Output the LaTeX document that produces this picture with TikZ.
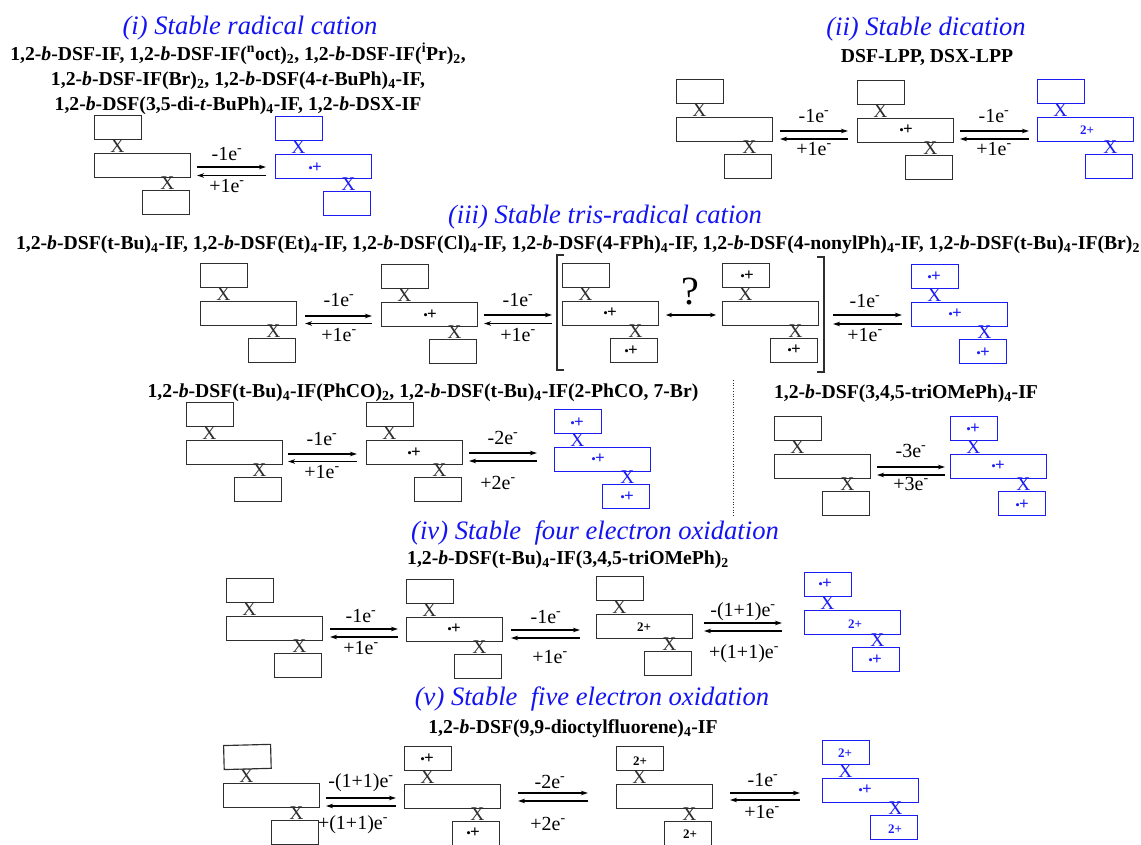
\documentclass[tikz,border=0pt]{standalone}
\usepackage{fontspec}
\setmainfont{Liberation Serif}
\usetikzlibrary{arrows.meta}
\definecolor{ink}{HTML}{2E2E2E}
\definecolor{bl}{HTML}{1C1CF5}
\definecolor{tt}{HTML}{1414F0}
\tikzset{
 mbox/.style={draw,line width=1.15pt,inner sep=0pt,minimum height=24pt,anchor=north west},
 lng/.style={mbox,minimum width=95.5pt},
 sht/.style={mbox,minimum width=47pt},
 xlab/.style={inner sep=0pt,font=\fontsize{19.5}{19}\selectfont},
 ttl/.style={inner sep=0pt,anchor=base,yshift=-8pt,text=tt,font=\fontsize{26.6}{26}\selectfont\itshape},
 cmp/.style={inner sep=0pt,anchor=base,yshift=-5pt,text=black,font=\fontsize{19.7}{20}\selectfont\bfseries},
 el/.style={inner sep=0pt,anchor=base,yshift=-6pt,text=black,font=\fontsize{20}{20}\selectfont},
 lab/.style={inner sep=0pt,text=black},
 labb/.style={inner sep=0pt,text=bl},
 eqa/.style={line width=1.7pt,color=black,-{Stealth[length=7pt,width=4.5pt]}},
 eqthin/.style={line width=1.1pt,color=black,-{Stealth[length=7pt,width=4.5pt]}},
}
\newcommand{\rc}{{\fontsize{13}{13}\selectfont\raisebox{0.6pt}{•}}\kern-0.8pt{\fontsize{17}{17}\selectfont\bfseries +}}
\newcommand{\dc}{{\fontsize{13}{13}\selectfont\bfseries 2+}}
\newcommand{\ssub}[1]{\textsubscript{#1}}
\newcommand{\ssup}[1]{\textsuperscript{#1}}
\newcommand{\bb}{\textit{b}}
\newcommand{\tbu}{\textit{t}}
% name, x, y, colour
\newcommand{\mol}[5][]{%
 \node[lng,draw=#5] (#2-m) at (#3,#4) {};
 \node[sht,draw=#5,#1] (#2-t) at (#3,#4-38) {};
 \node[sht,draw=#5] (#2-b) at (#3+48,#4+37) {};
 \node[xlab,text=#5] (#2-x) at (#3+23.5,#4-6.5) {X};
 \node[xlab,text=#5] (#2-y) at (#3+73.5,#4+30.5) {X};
}
% name, x1, x2, ytop, ybot, style
\newcommand{\eqm}[6]{%
 \coordinate (#1-a) at (#2,#4);
 \coordinate (#1-b) at (#3,#4);
 \coordinate (#1-c) at (#3,#5);
 \coordinate (#1-d) at (#2,#5);
 \draw[#6] (#1-a) -- (#1-b);
 \draw[#6] (#1-c) -- (#1-d);
}
\begin{document}
\begin{tikzpicture}[x=1pt,y=-1pt]
\useasboundingbox (0,0) rectangle (1141,844);
\clip (0,0) rectangle (1141,844);
% --- (i)
\node[ttl] (t1) at (250,26) {(i) Stable radical cation};
\node[cmp] (c1a) at (238,55) {1,2-\bb-DSF-IF, 1,2-\bb-DSF-IF(\ssup{n}oct)\ssub{2}, 1,2-\bb-DSF-IF(\ssup{i}Pr)\ssub{2},};
\node[cmp] (c1b) at (238,80) {1,2-\bb-DSF-IF(Br)\ssub{2}, 1,2-\bb-DSF(4-\tbu-BuPh)\ssub{4}-IF,};
\node[cmp] (c1c) at (238,105) {1,2-\bb-DSF(3,5-di-\tbu-BuPh)\ssub{4}-IF, 1,2-\bb-DSX-IF};
\mol{ia}{94}{153}{ink}
\mol{ib}{275}{154}{bl}
\node[labb] (ibm) at (315,168) {\rc};
\eqm{e1}{197}{266}{167}{175.5}{eqa}
\node[el] (e1u) at (227,154) {-1e\ssup{-}};
\node[el] (e1d) at (227,186) {+1e\ssup{-}};
% --- (ii)
\node[ttl] (t2) at (926,27) {(ii) Stable dication};
\node[cmp] (c2) at (927,57) {DSF-LPP, DSX-LPP};
\mol{iia}{676}{117}{ink}
\mol{iib}{857}{118}{ink}
\mol{iic}{1037}{117}{bl}
\node[lab] (iibm) at (906,130) {\rc};
\node[labb] (iicm) at (1087,130) {\dc};
\eqm{e2}{780}{848}{131}{139}{eqa}
\eqm{e3}{960}{1029}{131}{139}{eqa}
\node[el] (e2u) at (814,116) {-1e\ssup{-}};
\node[el] (e2d) at (814,149) {+1e\ssup{-}};
\node[el] (e3u) at (994,116) {-1e\ssup{-}};
\node[el] (e3d) at (994,149) {+1e\ssup{-}};
% --- (iii)
\node[ttl] (t3) at (605,215) {(iii) Stable tris-radical cation};
\node[cmp] (c3) at (578,244) {1,2-\bb-DSF(t-Bu)\ssub{4}-IF, 1,2-\bb-DSF(Et)\ssub{4}-IF, 1,2-\bb-DSF(Cl)\ssub{4}-IF, 1,2-\bb-DSF(4-FPh)\ssub{4}-IF, 1,2-\bb-DSF(4-nonylPh)\ssub{4}-IF, 1,2-\bb-DSF(t-Bu)\ssub{4}-IF(Br)\ssub{2}};
\mol{ma}{200}{301}{ink}
\mol{mb}{381}{302}{ink}
\mol{mc}{562}{301}{ink}
\mol{md}{722}{301}{ink}
\mol{me}{911}{302}{bl}
\node[lab] (mbm) at (430,315) {\rc};
\node[lab] (mcm) at (610,313) {\rc};
\node[lab] (mcb) at (631,351) {\rc};
\node[lab] (mdt) at (747,276) {\rc};
\node[lab] (mdb) at (794,350) {\rc};
\node[labb] (met) at (934,277) {\rc};
\node[labb] (mem) at (955,314) {\rc};
\node[labb] (meb) at (983,353) {\rc};
\eqm{e4}{305}{372}{316}{323.5}{eqa}
\eqm{e5}{484}{552}{315}{323.5}{eqa}
\eqm{e6}{833}{902}{315}{324}{eqa}
\node[el] (e4u) at (339,300) {-1e\ssup{-}};
\node[el] (e4d) at (339,335) {+1e\ssup{-}};
\node[el] (e5u) at (518,300) {-1e\ssup{-}};
\node[el] (e5d) at (518,335) {+1e\ssup{-}};
\node[el] (e6u) at (865,301) {-1e\ssup{-}};
\node[el] (e6d) at (865,335) {+1e\ssup{-}};
\node[inner sep=0pt,font=\fontsize{40}{40}\selectfont] (q) at (690,292) {?};
\coordinate (qa) at (666,315);
\coordinate (qb) at (716,315);
\draw[line width=1.2pt,{Stealth[length=6pt,width=4.5pt]}-{Stealth[length=6pt,width=4.5pt]}] (qa) -- (qb);
\coordinate (bl1) at (564,255); \coordinate (bl2) at (557,255); \coordinate (bl3) at (557,370); \coordinate (bl4) at (564,370);
\draw[line width=1.4pt,color=ink] (bl1) -- (bl2) -- (bl3) -- (bl4);
\coordinate (br1) at (817,257); \coordinate (br2) at (824,257); \coordinate (br3) at (824,372); \coordinate (br4) at (817,372);
\draw[line width=1.4pt,color=ink] (br1) -- (br2) -- (br3) -- (br4);
\node[cmp] (c3b) at (423,392) {1,2-\bb-DSF(t-Bu)\ssub{4}-IF(PhCO)\ssub{2}, 1,2-\bb-DSF(t-Bu)\ssub{4}-IF(2-PhCO, 7-Br)};
\node[cmp] (c3c) at (906,393) {1,2-\bb-DSF(3,4,5-triOMePh)\ssub{4}-IF};
\coordinate (da) at (733,380); \coordinate (db) at (733,516);
\draw[line width=0.7pt,dotted,color=ink] (da) -- (db);
\mol{na}{186}{440}{ink}
\mol{nb}{366}{440}{ink}
\mol{nc}{554}{447}{bl}
\node[lab] (nbm) at (414,453) {\rc};
\node[labb] (nct) at (577,423) {\rc};
\node[labb] (ncm) at (598,459) {\rc};
\node[labb] (ncb) at (627,497) {\rc};
\eqm{e7}{288}{357}{454}{461.5}{eqa}
\eqm{e8}{469}{537}{453}{461}{eqa}
\node[el] (e7u) at (322,439) {-1e\ssup{-}};
\node[el] (e7d) at (322,472) {+1e\ssup{-}};
\node[el] (e8u) at (503,438) {-2e\ssup{-}};
\node[el] (e8d) at (498,483) {+2e\ssup{-}};
\mol{oa}{774}{454}{ink}
\mol{ob}{950}{454}{bl}
\node[labb] (obt) at (973,429) {\rc};
\node[labb] (obm) at (998,466) {\rc};
\node[labb] (obb) at (1022,505) {\rc};
\eqm{e9}{877}{945}{467}{475}{eqa}
\node[el] (e9u) at (911,451) {-3e\ssup{-}};
\node[el] (e9d) at (911,484) {+3e\ssup{-}};
% --- (iv)
\node[ttl] (t4) at (595,531) {(iv) Stable\ \ four electron oxidation};
\node[cmp] (c4) at (568,559) {1,2-\bb-DSF(t-Bu)\ssub{4}-IF(3,4,5-triOMePh)\ssub{2}};
\mol{pa}{226}{616}{ink}
\mol{pb}{406}{617}{ink}
\mol{pc}{596}{614}{ink}
\mol{pd}{804}{610}{bl}
\node[lab] (pbm) at (454,629) {\rc};
\node[lab] (pcm) at (644,627) {\dc};
\node[labb] (pdt) at (825,584) {\rc};
\node[labb] (pdm) at (855,624) {\dc};
\node[labb] (pdb) at (875,660) {\rc};
\eqm{e10}{330}{398}{629}{637}{eqa}
\eqm{e11}{511}{580}{630}{638}{eqa}
\eqm{e12}{704}{782}{623}{631}{eqthin}
\node[el] (e10u) at (361,616) {-1e\ssup{-}};
\node[el] (e10d) at (361,648) {+1e\ssup{-}};
\node[el] (e11u) at (546,617) {-1e\ssup{-}};
\node[el] (e11d) at (550,657) {+1e\ssup{-}};
\node[el] (e12u) at (743,610) {-(1+1)e\ssup{-}};
\node[el] (e12d) at (744,652) {+(1+1)e\ssup{-}};
% --- (v)
\node[ttl] (t5) at (592,697) {(v) Stable\ \ five electron oxidation};
\node[cmp] (c5) at (573,728) {1,2-\bb-DSF(9,9-dioctylfluorene)\ssub{4}-IF};
\mol[rotate=1.5]{qa}{223}{783}{ink}
\mol{qb}{404}{784}{ink}
\mol{qc}{616}{784}{ink}
\mol{qd}{822}{778}{bl}
\node[lab] (qbt) at (427,759) {\rc};
\node[lab] (qbb) at (473,833) {\rc};
\node[lab] (qct) at (640,761) {\dc};
\node[lab] (qcb) at (690,834) {\dc};
\node[labb] (qdt) at (845,753) {\dc};
\node[labb] (qdm) at (865,790) {\rc};
\node[labb] (qdb) at (895,829) {\dc};
\eqm{e13}{326}{396}{798}{806}{eqthin}
\eqm{e14}{518}{588}{793}{801}{eqa}
\eqm{e15}{730}{800}{793}{800}{eqa}
\node[el] (e13u) at (361,781) {-(1+1)e\ssup{-}};
\node[el] (e13d) at (353,823) {+(1+1)e\ssup{-}};
\node[el] (e14u) at (550,782) {-2e\ssup{-}};
\node[el] (e14d) at (548,824) {+2e\ssup{-}};
\node[el] (e15u) at (763,780) {-1e\ssup{-}};
\node[el] (e15d) at (762,812) {+1e\ssup{-}};
\end{tikzpicture}
\end{document}
